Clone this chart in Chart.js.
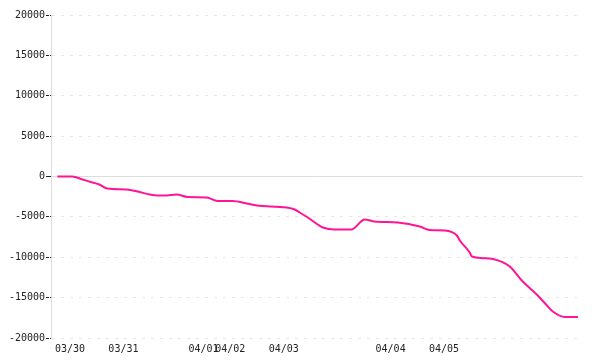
<!DOCTYPE html>
<html>
<head>
<meta charset="utf-8">
<script src="https://cdn.jsdelivr.net/npm/chart.js@4"></script>
<style>
  html, body { margin: 0; padding: 0; background: #fff; }
  #wrap { width: 600px; height: 360px; }
</style>
</head>
<body>
<div id="wrap"><canvas id="lineChart"></canvas></div>
<script>
// x positions (tenths of a label step), and values
const xPos = [-4.7, 0.9, 4.7, 8.4, 11.0, 14.0, 21.2, 25.3, 29.8, 32.8, 36.1, 39.9, 44.0, 51.1, 53.4, 55.2,
              60.9, 66.1, 69.9, 81.1, 84.1, 86.0, 89.0, 92.7, 94.6, 99.1, 105.4, 110.3, 114.0, 122.7,
              130.9, 134.6, 140.3, 144.8, 145.9, 149.6, 150.4, 154.5, 158.3, 164.6, 169.1, 171.0,
              174.7, 178.5, 180.7, 185.2, 190.1];
const values = [0, 0, -370, -740, -990, -1490, -1610, -1860, -2230, -2350, -2350, -2230, -2540, -2600, -2850, -3030,
                -3030, -3340, -3590, -3840, -4090, -4460, -5080, -5940, -6310, -6560, -6560, -5320, -5570, -5700,
                -6190, -6620, -6690, -7300, -7920, -9410, -9900, -10110, -10210, -11140, -12880, -13490,
                -14610, -15970, -16710, -17390, -17390];
const tickPos = [0, 20, 50, 60, 80, 120, 140];
const tickLabels = ['03/30', '03/31', '04/01', '04/02', '04/03', '04/04', '04/05'];

const points = xPos.map((x, i) => ({ x: x, y: values[i] }));
const font = { family: 'DejaVu Sans Mono', size: 10 };

const ctx = document.getElementById('lineChart').getContext('2d');
const lineChart = new Chart(ctx, {
    type: 'line',
    data: {
        datasets: [{
            data: points,
            borderColor: '#ff1493',
            borderWidth: 2,
            pointRadius: 0,
            fill: false,
            cubicInterpolationMode: 'monotone'
        }]
    },
    options: {
        responsive: true,
        maintainAspectRatio: false,
        animation: false,
        layout: { padding: { top: 15, right: 17, left: 0, bottom: 0 } },
        plugins: { legend: { display: false }, tooltip: { enabled: false } },
        scales: {
            x: {
                type: 'linear',
                min: -7.1,
                max: 192.0,
                afterBuildTicks: s => { s.ticks = tickPos.map(v => ({ value: v })); },
                afterFit: s => { s.height = 22; },
                grid: { display: false, drawTicks: false },
                border: { display: false },
                ticks: {
                    autoSkip: false, maxRotation: 0, padding: 5,
                    color: '#222', font: font,
                    callback: v => tickLabels[tickPos.indexOf(v)]
                }
            },
            y: {
                min: -20000,
                max: 20000,
                afterFit: s => { s.width = 51; },
                grid: {
                    color: c => c.tick && c.tick.value === 0 ? '#dddddd' : '#e6e6e6',
                    tickColor: '#222',
                    tickLength: 5,
                    tickBorderDash: c => c.tick && c.tick.value === 0 ? [] : [3, 1]
                },
                border: {
                    display: true, color: '#dddddd', width: 1,
                    dash: c => c.tick && c.tick.value === 0 ? [] : [3, 6]
                },
                ticks: {
                    stepSize: 5000, padding: 1,
                    color: '#222', font: font,
                    callback: v => String(v)
                }
            }
        }
    }
});
</script>
</body>
</html>
